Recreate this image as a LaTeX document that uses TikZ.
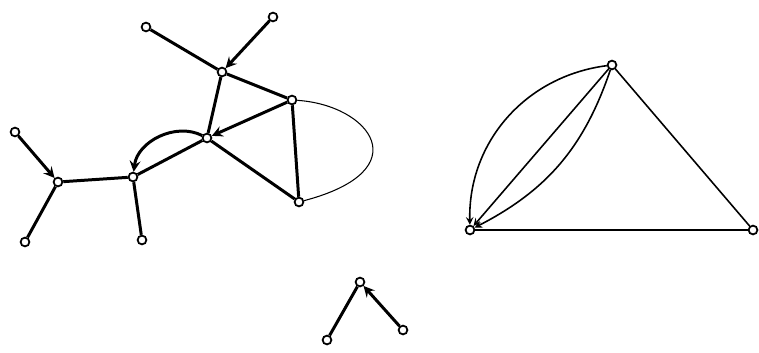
\documentclass[tikz,border=0pt]{standalone}
\begin{document}
\begin{tikzpicture}[x=0.02cm,y=-0.02cm]
    \tikzset{
        vertex/.style={draw, circle, fill=white, inner sep=0pt, minimum size=5pt, line width=1pt},
        arc/.style={->, >=stealth},
        thickline/.style={line width=1.7pt},
        thinline/.style={line width=0.9pt}
    }
    \useasboundingbox (0,0) rectangle (759,352);
    % left graph
    \draw node[vertex] (a) at (146,27) {};
    \draw node[vertex] (b) at (273,17) {};
    \draw node[vertex] (c) at (222,72) {};
    \draw node[vertex] (d) at (292,100) {};
    \draw node[vertex] (e) at (207,138) {};
    \draw node[vertex] (f) at (299,202) {};
    \draw node[vertex] (g) at (133,177) {};
    \draw node[vertex] (h) at (58,182) {};
    \draw node[vertex] (i) at (15,132) {};
    \draw node[vertex] (j) at (25,242) {};
    \draw node[vertex] (k) at (142,240) {};
    \foreach \x/\y in {%
        a/c,c/d,c/e,e/f,d/f,e/g,g/h,g/k,h/j%
    }
    {
        \draw[thickline] (\x) -- (\y);
    }
    \foreach \x/\y in {%
        b/c,d/e,i/h%
    }
    {
        \draw[thickline] (\x) edge[arc] (\y);
    }
    \draw[thickline] (e) edge[arc, bend right=55] (g);
    \draw[line width=0.6pt] (d) .. controls (370,105) and (420,170) .. (f);

    % small graph
    \draw node[vertex] (l) at (360,282) {};
    \draw node[vertex] (m) at (327,340) {};
    \draw node[vertex] (n) at (403,330) {};
    \draw[thickline] (l) -- (m);
    \draw[thickline] (n) edge[arc] (l);

    % right graph
    \draw node[vertex] (p) at (470,230) {};
    \draw node[vertex] (q) at (612,65) {};
    \draw node[vertex] (r) at (753,230) {};
    \draw[line width=1.2pt] (p) -- (r);
    \draw[thinline] (q) -- (r);
    \draw[thinline] (q) edge[arc] (p);
    \draw[thinline] (q) edge[arc, bend right=42] (p);
    \draw[thinline] (q) edge[arc, bend left=22] (p);
\end{tikzpicture}
\end{document}
